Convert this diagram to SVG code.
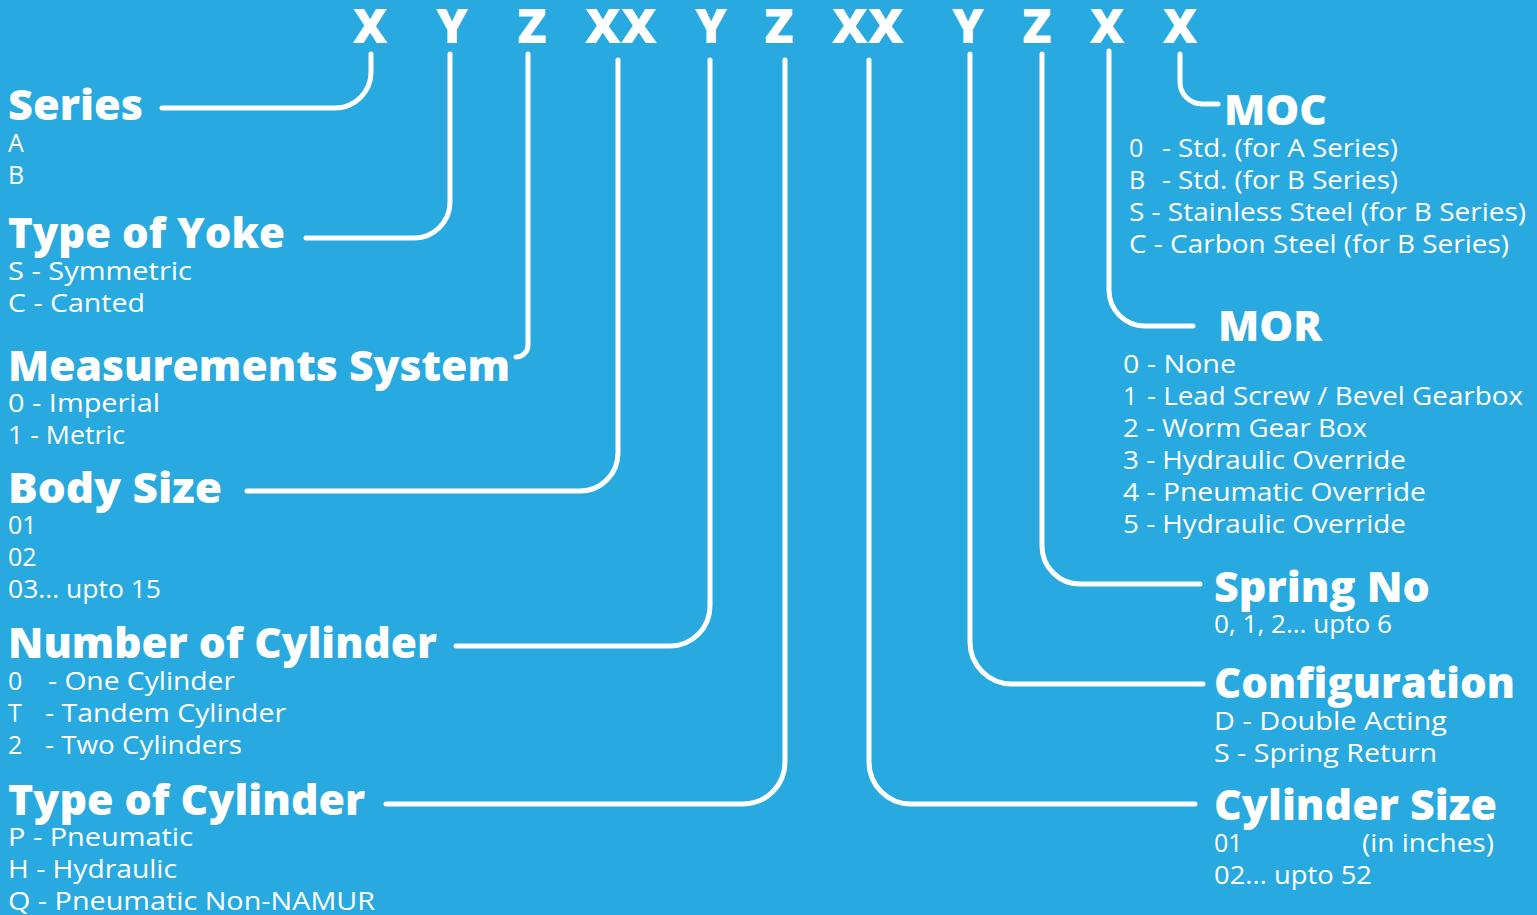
<svg xmlns="http://www.w3.org/2000/svg" width="1537" height="915" viewBox="0 0 1537 915">
  <style>
    .code { font-family: "Open Sans", "Liberation Sans", sans-serif; font-weight: 800; font-size: 48px; fill: #fff; text-anchor: middle; }
    .head { font-family: "Open Sans", "Liberation Sans", sans-serif; font-weight: 800; font-size: 42px; fill: #fff; }
    .item { font-family: "Open Sans", "Liberation Sans", sans-serif; font-weight: 400; font-size: 25px; fill: #fff; }
    .wire { fill: none; stroke: #fff; stroke-width: 5; stroke-linecap: round; stroke-linejoin: round; }
  </style>

  <rect x="0" y="0" width="1537" height="915" fill="#28a9e0"/>

  <!-- model code letters -->
  <g id="code">
    <text class="code" x="370" y="43">X</text>
    <text class="code" x="452" y="43">Y</text>
    <text class="code" x="532" y="43">Z</text>
    <text class="code" x="621" y="43" textLength="72" lengthAdjust="spacingAndGlyphs">XX</text>
    <text class="code" x="711" y="43">Y</text>
    <text class="code" x="779" y="43">Z</text>
    <text class="code" x="868" y="43" textLength="72" lengthAdjust="spacingAndGlyphs">XX</text>
    <text class="code" x="968" y="43">Y</text>
    <text class="code" x="1037" y="43">Z</text>
    <text class="code" x="1107" y="43">X</text>
    <text class="code" x="1180" y="43">X</text>
  </g>

  <!-- leader lines from each code letter to its field -->
  <g id="connectors">
    <path class="wire" d="M371,54 V72 A36,36 0 0 1 335,108 H162"/>
    <path class="wire" d="M450,54 V202 A36,36 0 0 1 414,238 H306"/>
    <path class="wire" d="M528,54 V345 A12,12 0 0 1 516,357"/>
    <path class="wire" d="M618,60 V453 A38,38 0 0 1 580,491 H247"/>
    <path class="wire" d="M710,60 V606 A40,40 0 0 1 670,646 H456"/>
    <path class="wire" d="M785,60 V762 A42,42 0 0 1 743,804 H386"/>
    <path class="wire" d="M869,60 V762 A42,42 0 0 0 911,804 H1195"/>
    <path class="wire" d="M970,54 V642 A42,42 0 0 0 1012,684 H1203"/>
    <path class="wire" d="M1042,54 V546 A38,38 0 0 0 1080,584 H1200"/>
    <path class="wire" d="M1109,51 V290 A36,36 0 0 0 1145,326 H1193"/>
    <path class="wire" d="M1180,54 V82 A22,22 0 0 0 1202,104 H1218"/>
  </g>

  <g id="series">
    <text class="head" x="8" y="120" textLength="135" lengthAdjust="spacingAndGlyphs">Series</text>
    <text class="item" x="8" y="152">A</text>
    <text class="item" x="8" y="184">B</text>
  </g>

  <g id="yoke">
    <text class="head" x="8" y="248" textLength="277" lengthAdjust="spacingAndGlyphs">Type of Yoke</text>
    <text class="item" x="8" y="280" textLength="184" lengthAdjust="spacingAndGlyphs">S - Symmetric</text>
    <text class="item" x="8" y="312" textLength="137" lengthAdjust="spacingAndGlyphs">C - Canted</text>
  </g>

  <g id="measurement">
    <text class="head" x="8" y="381" textLength="502" lengthAdjust="spacingAndGlyphs">Measurements System</text>
    <text class="item" x="8" y="412" textLength="152" lengthAdjust="spacingAndGlyphs">0 - Imperial</text>
    <text class="item" x="8" y="444" textLength="117" lengthAdjust="spacingAndGlyphs">1 - Metric</text>
  </g>

  <g id="body-size">
    <text class="head" x="8" y="503" textLength="214" lengthAdjust="spacingAndGlyphs">Body Size</text>
    <text class="item" x="8" y="534">01</text>
    <text class="item" x="8" y="566">02</text>
    <text class="item" x="8" y="598" textLength="153" lengthAdjust="spacingAndGlyphs">03... upto 15</text>
  </g>

  <g id="cylinder-count">
    <text class="head" x="8" y="658" textLength="429" lengthAdjust="spacingAndGlyphs">Number of Cylinder</text>
    <text class="item" x="8" y="690">0</text>
    <text class="item" x="48" y="690" textLength="187" lengthAdjust="spacingAndGlyphs">- One Cylinder</text>
    <text class="item" x="8" y="722">T</text>
    <text class="item" x="45" y="722" textLength="241" lengthAdjust="spacingAndGlyphs">- Tandem Cylinder</text>
    <text class="item" x="8" y="754">2</text>
    <text class="item" x="45" y="754" textLength="197" lengthAdjust="spacingAndGlyphs">- Two Cylinders</text>
  </g>

  <g id="cylinder-type">
    <text class="head" x="8" y="815" textLength="357" lengthAdjust="spacingAndGlyphs">Type of Cylinder</text>
    <text class="item" x="8" y="846" textLength="185" lengthAdjust="spacingAndGlyphs">P - Pneumatic</text>
    <text class="item" x="8" y="878" textLength="169" lengthAdjust="spacingAndGlyphs">H - Hydraulic</text>
    <text class="item" x="8" y="910" textLength="367" lengthAdjust="spacingAndGlyphs">Q - Pneumatic Non-NAMUR</text>
  </g>

  <g id="moc">
    <text class="head" x="1224" y="125" textLength="103" lengthAdjust="spacingAndGlyphs">MOC</text>
    <text class="item" x="1129" y="157">0</text>
    <text class="item" x="1162" y="157" textLength="236" lengthAdjust="spacingAndGlyphs">- Std. (for A Series)</text>
    <text class="item" x="1129" y="189">B</text>
    <text class="item" x="1162" y="189" textLength="236" lengthAdjust="spacingAndGlyphs">- Std. (for B Series)</text>
    <text class="item" x="1129" y="221" textLength="397" lengthAdjust="spacingAndGlyphs">S - Stainless Steel (for B Series)</text>
    <text class="item" x="1129" y="253" textLength="380" lengthAdjust="spacingAndGlyphs">C - Carbon Steel (for B Series)</text>
  </g>

  <g id="mor">
    <text class="head" x="1218" y="341" textLength="104" lengthAdjust="spacingAndGlyphs">MOR</text>
    <text class="item" x="1123" y="373" textLength="113" lengthAdjust="spacingAndGlyphs">0 - None</text>
    <text class="item" x="1123" y="405">1</text>
    <text class="item" x="1147" y="405" textLength="376" lengthAdjust="spacingAndGlyphs">- Lead Screw / Bevel Gearbox</text>
    <text class="item" x="1123" y="437" textLength="244" lengthAdjust="spacingAndGlyphs">2 - Worm Gear Box</text>
    <text class="item" x="1123" y="469" textLength="283" lengthAdjust="spacingAndGlyphs">3 - Hydraulic Override</text>
    <text class="item" x="1123" y="501" textLength="303" lengthAdjust="spacingAndGlyphs">4 - Pneumatic Override</text>
    <text class="item" x="1123" y="533" textLength="283" lengthAdjust="spacingAndGlyphs">5 - Hydraulic Override</text>
  </g>

  <g id="spring">
    <text class="head" x="1214" y="602" textLength="216" lengthAdjust="spacingAndGlyphs">Spring No</text>
    <text class="item" x="1214" y="633" textLength="178" lengthAdjust="spacingAndGlyphs">0, 1, 2... upto 6</text>
  </g>

  <g id="configuration">
    <text class="head" x="1214" y="698" textLength="301" lengthAdjust="spacingAndGlyphs">Configuration</text>
    <text class="item" x="1214" y="730" textLength="233" lengthAdjust="spacingAndGlyphs">D - Double Acting</text>
    <text class="item" x="1214" y="762" textLength="223" lengthAdjust="spacingAndGlyphs">S - Spring Return</text>
  </g>

  <g id="cylinder-size">
    <text class="head" x="1214" y="820" textLength="283" lengthAdjust="spacingAndGlyphs">Cylinder Size</text>
    <text class="item" x="1214" y="852">01</text>
    <text class="item" x="1362" y="852" textLength="132" lengthAdjust="spacingAndGlyphs">(in inches)</text>
    <text class="item" x="1214" y="884" textLength="158" lengthAdjust="spacingAndGlyphs">02... upto 52</text>
  </g>
</svg>
